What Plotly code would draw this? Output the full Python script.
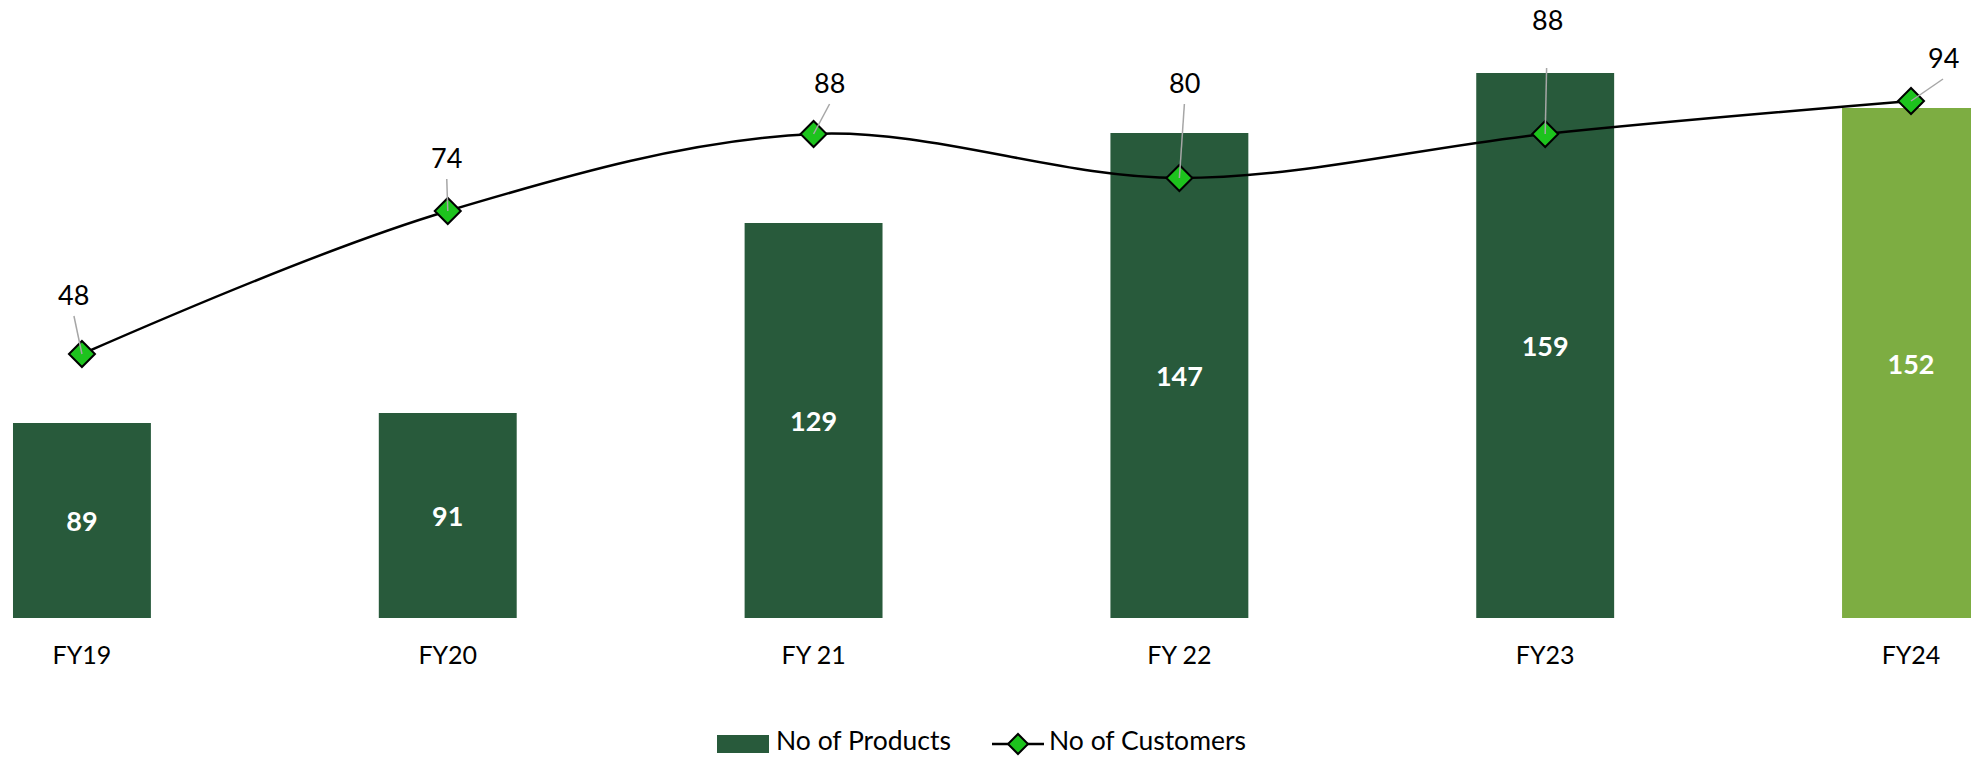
import plotly.graph_objects as go

# Fiscal years and the two series
categories = ["FY19", "FY20", "FY 21", "FY 22", "FY23", "FY24"]
products = [89, 91, 129, 147, 159, 152]
customers = [48, 74, 88, 80, 88, 94]

bar_colors = ["#285A3B", "#285A3B", "#285A3B", "#285A3B", "#285A3B", "#7DAD42"]
line_marker_color = "#1DC31D"

# value axis for the bars starts above zero
PRODUCT_AXIS = [50, 160]
CUSTOMER_AXIS = [0, 100]

# pixel offsets (right, down) of each customer label from its marker
label_dx = [-8, -1, 16, 5, 2, 32]
label_dy = [-60, -54, -52, -96, -115, -44]
LEADER_GAP = 22  # leader line stops this far below the label centre

FONT = "Lato, 'Open Sans', sans-serif"

W, H = 1971, 757
M_TOP, M_BOTTOM = 68, 139
PLOT_H = H - M_TOP - M_BOTTOM


def px_x(p):
    return p / W


def px_y(p):
    return (H - M_BOTTOM - p) / PLOT_H


base = PRODUCT_AXIS[0]

fig = go.Figure()

fig.add_trace(go.Bar(
    x=categories,
    y=[v - base for v in products],
    base=base,
    name="No of Products",
    width=0.377,
    marker=dict(color=bar_colors, line=dict(width=0)),
    text=[str(v) for v in products],
    textposition="inside",
    insidetextanchor="middle",
    textangle=0,
    textfont=dict(family=FONT, size=27, color="white", weight="bold"),
    hovertext=[str(v) for v in products],
    showlegend=False,
    yaxis="y",
))

fig.add_trace(go.Scatter(
    x=categories,
    y=customers,
    name="No of Customers",
    mode="lines+markers",
    line=dict(color="black", width=2.5, shape="spline", smoothing=1),
    marker=dict(symbol="diamond", size=20, color=line_marker_color,
                line=dict(color="black", width=2)),
    cliponaxis=False,
    showlegend=False,
    yaxis="y2",
))

# customer value labels with grey leader lines
for cat, val, dx, dy in zip(categories, customers, label_dx, label_dy):
    fig.add_shape(
        type="line", xref="x", yref="y2",
        xsizemode="pixel", ysizemode="pixel",
        xanchor=cat, yanchor=val,
        x0=0, y0=0, x1=dx, y1=-(dy + LEADER_GAP),
        line=dict(color="#A6A6A6", width=1.5),
        layer="above",
    )
    fig.add_annotation(
        x=cat, y=val, xref="x", yref="y2",
        text=str(val),
        showarrow=False,
        xanchor="center", yanchor="middle",
        xshift=dx, yshift=-dy,
        font=dict(family=FONT, size=27, color="black"),
    )

# legend drawn below the category axis
LEG_Y = 740
fig.add_shape(type="rect", xref="paper", yref="paper",
              x0=px_x(717), x1=px_x(769), y0=px_y(735), y1=px_y(753),
              fillcolor=bar_colors[0], line=dict(width=0))
fig.add_annotation(xref="paper", yref="paper", x=px_x(775), y=px_y(LEG_Y),
                   xanchor="left", yanchor="middle", showarrow=False,
                   text="No of Products", borderpad=0,
                   font=dict(family=FONT, size=26.5, color="black"))
fig.add_shape(type="line", xref="paper", yref="paper",
              x0=px_x(992), x1=px_x(1044), y0=px_y(744), y1=px_y(744),
              line=dict(color="black", width=2.5))
fig.add_shape(type="path", xref="paper", yref="paper",
              xsizemode="pixel", ysizemode="pixel",
              xanchor=px_x(1018), yanchor=px_y(744),
              path="M 0 -10 L 10 0 L 0 10 L -10 0 Z",
              fillcolor=line_marker_color, line=dict(color="black", width=2))
fig.add_annotation(xref="paper", yref="paper", x=px_x(1048), y=px_y(LEG_Y),
                   xanchor="left", yanchor="middle", showarrow=False,
                   text="No of Customers", borderpad=0,
                   font=dict(family=FONT, size=26.5, color="black"))

fig.update_layout(
    width=W,
    height=H,
    margin=dict(l=0, r=0, t=M_TOP, b=M_BOTTOM, autoexpand=False),
    paper_bgcolor="white",
    plot_bgcolor="white",
    font=dict(family=FONT, color="black"),
    showlegend=False,
    xaxis=dict(
        type="category",
        range=[-0.224, 5.164],
        automargin=False,
        showgrid=False,
        showline=False,
        zeroline=False,
        ticks="",
        ticklabelstandoff=20,
        tickfont=dict(family=FONT, size=25, color="black"),
    ),
    yaxis=dict(
        range=PRODUCT_AXIS,
        visible=False,
        showgrid=False,
        automargin=False,
    ),
    yaxis2=dict(
        range=CUSTOMER_AXIS,
        overlaying="y",
        side="right",
        visible=False,
        showgrid=False,
        automargin=False,
    ),
)

fig.write_html("out.html")
